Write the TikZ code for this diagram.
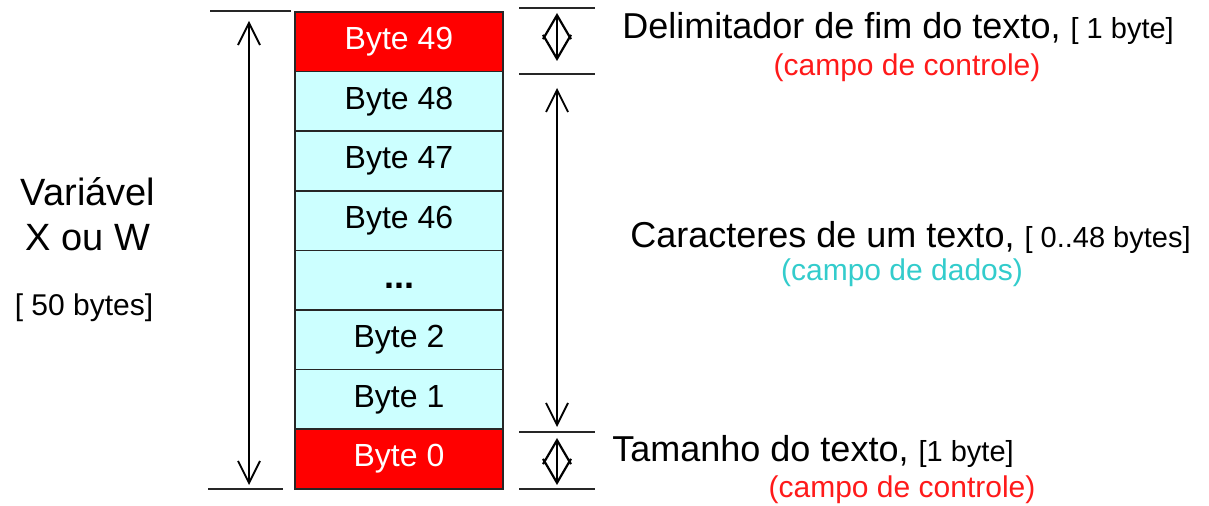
\documentclass[tikz,border=0pt]{standalone}
\usepackage{fontspec}
\setmainfont{Liberation Sans}
\usetikzlibrary{positioning}
\usetikzlibrary{arrows.meta}
\definecolor{ctrlred}{HTML}{FF0000}
\definecolor{datacyan}{HTML}{CCFFFF}
\definecolor{ctrltext}{HTML}{FF1A1A}
\definecolor{datatext}{HTML}{33CCCC}
\newcommand{\bracktext}[1]{{\fontsize{14.5}{17}\selectfont #1}}

\begin{document}
\begin{tikzpicture}[x=0.5pt,y=-0.5pt,
	bytebox/.style={draw=black!85, line width=0.8pt, minimum width=104pt, minimum height=29.8pt, inner sep=0pt, outer sep=0pt, text height=11.5pt, text depth=3.5pt, font=\fontsize{16}{19}\selectfont},
	ctrlbyte/.style={bytebox, fill=ctrlred, text=white},
	databyte/.style={bytebox, fill=datacyan},
	tick/.style={line width=1pt, black!85},
	dimarrow/.style={line width=0.9pt, {Straight Barb[length=11pt,width=11pt]}-{Straight Barb[length=11pt,width=11pt]}},
	smallarrow/.style={line width=1.1pt, {Straight Barb[length=12pt,width=14pt]}-{Straight Barb[length=12pt,width=14pt]}},
	bigtext/.style={font=\fontsize{18}{22}\selectfont, inner sep=0pt},
	ctrlnote/.style={font=\fontsize{15}{18}\selectfont, text=ctrltext, inner sep=0pt},
	datanote/.style={font=\fontsize{15}{18}\selectfont, text=datatext, inner sep=0pt},
	vartext/.style={font=\fontsize{19}{23}\selectfont, inner sep=0pt}]
	\useasboundingbox (0,0) rectangle (1209,506);
	%% the byte cells of the variable, from the top down
	\node[ctrlbyte] (b49) at (399,41.8) {Byte 49};
	\node[databyte, below=0pt of b49] (b48) {Byte 48};
	\node[databyte, below=0pt of b48] (b47) {Byte 47};
	\node[databyte, below=0pt of b47] (b46) {Byte 46};
	\node[databyte, below=0pt of b46] (bdots) {\fontsize{18}{19}\selectfont\textbf{...}};
	\node[databyte, below=0pt of bdots] (b2) {Byte 2};
	\node[databyte, below=0pt of b2] (b1) {Byte 1};
	\node[ctrlbyte, below=0pt of b1] (b0) {Byte 0};
	%% ends of the dimension lines
	\coordinate (lt1) at (210,11);  \coordinate (lt2) at (291,11);
	\coordinate (lb1) at (208,489); \coordinate (lb2) at (283,489);
	\coordinate (rt1) at (519,8);   \coordinate (rt2) at (595,8);
	\coordinate (rm1) at (519,74);  \coordinate (rm2) at (595,74);
	\coordinate (rn1) at (519,432); \coordinate (rn2) at (595,432);
	\coordinate (rb1) at (519,489); \coordinate (rb2) at (595,489);
	\draw[tick] (lt1) -- (lt2);
	\draw[tick] (lb1) -- (lb2);
	\draw[tick] (rt1) -- (rt2);
	\draw[tick] (rm1) -- (rm2);
	\draw[tick] (rn1) -- (rn2);
	\draw[tick] (rb1) -- (rb2);
	%% the arrows between them
	\coordinate (la1) at (249,21);  \coordinate (la2) at (249,485);
	\coordinate (sa1) at (557,13);  \coordinate (sa2) at (557,61);
	\coordinate (ra1) at (557,88);  \coordinate (ra2) at (557,427);
	\coordinate (sb1) at (557,438); \coordinate (sb2) at (557,485);
	\draw[dimarrow] (la1) -- (la2);
	\draw[smallarrow] (sa1) -- (sa2);
	\draw[dimarrow] (ra1) -- (ra2);
	\draw[smallarrow] (sb1) -- (sb2);
	%% labels on the right
	\node[bigtext, anchor=base west] (delim) at (622,39) {Delimitador de fim do texto, \bracktext{[ 1 byte]}};
	\node[ctrlnote, anchor=base] (delimnote) at (907,76) {(campo de controle)};
	\node[bigtext, anchor=base west] (chars) at (630,248) {Caracteres de um texto, \bracktext{[ 0..48 bytes]}};
	\node[datanote, anchor=base] (charsnote) at (902,281) {(campo de dados)};
	\node[bigtext, anchor=base west] (size) at (612,462) {Tamanho do texto, \bracktext{[1 byte]}};
	\node[ctrlnote, anchor=base] (sizenote) at (902,498) {(campo de controle)};
	%% label on the left
	\node[vartext, anchor=base] (varname) at (88,206) {Variável};
	\node[vartext, anchor=base] (varxw) at (88,251) {X ou W};
	\node[ctrlnote, text=black, anchor=base] (varsize) at (84,316) {[ 50 bytes]};
\end{tikzpicture}
\end{document}
